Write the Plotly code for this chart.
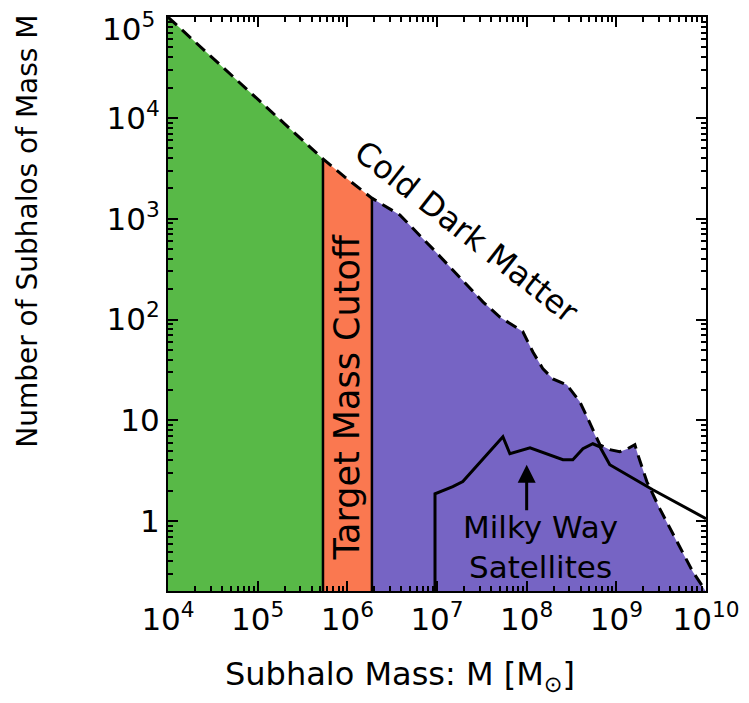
import numpy as np
import plotly.graph_objects as go

# ---- data ----
cdm_mass = [1e4, 5.35e5, 9.4e5, 1.88e6, 3.85e6, 9.0e6, 3.25e7, 5.02e7, 9.08e7, 1.17e8,
            1.52e8, 1.96e8, 2.81e8, 3.92e8, 4.81e8, 5.75e8, 6.55e8, 8.45e8, 1.09e9,
            1.34e9, 1.61e9, 1.74e9, 2.19e9, 3.05e9, 4.72e9, 7.13e9, 1e10]
cdm_count = [1e5, 3920, 2590, 1600, 1090, 502, 150, 106, 75.7, 47.9,
             32.4, 25.8, 22.5, 15.3, 10.4, 7.19, 5.73, 5.12, 4.89,
             5.24, 5.73, 4.56, 2.47, 1.33, 0.627, 0.315, 0.2]

mw_mass = [9.5e6, 9.5e6, 1.5e7, 1.94e7, 5.43e7, 6.5e7, 1.09e8, 1.82e8, 2.54e8, 3.27e8,
           4.24e8, 5.47e8, 6.55e8, 8.45e8, 2.55e9, 1e10]
mw_count = [0.1, 1.87, 2.2, 2.47, 6.89, 4.67, 5.35, 4.56, 4.07, 4.07,
            5.24, 5.86, 5.47, 3.63, 2.05, 1.06]

cutoff_lo = 5.35e5
cutoff_hi = 1.88e6
mass_min, mass_max = 1e4, 1e10
count_min, count_max = 0.203, 1.0e5

x_tickvals = [1e4, 1e5, 1e6, 1e7, 1e8, 1e9, 1e10]
x_ticktext = ["10<sup>4</sup>", "10<sup>5</sup>", "10<sup>6</sup>", "10<sup>7</sup>",
              "10<sup>8</sup>", "10<sup>9</sup>", "10<sup>10</sup>"]
y_tickvals = [1, 10, 100, 1000, 1e4, 1e5]
y_ticktext = ["1", "10", "10<sup>2</sup>", "10<sup>3</sup>", "10<sup>4</sup>", "10<sup>5</sup>"]

x_title = "Subhalo Mass: M [M<sub>⊙</sub>]"
y_title = "Number of Subhalos of Mass M"

GREEN = "#58B947"
ORANGE = "#FA7850"
PURPLE = "#7664C4"
FONT = "DejaVu Sans"

lx = np.log10(cdm_mass)
ly = np.log10(cdm_count)


def cdm_at(m):
    return 10 ** np.interp(np.log10(m), lx, ly)


def region(a, b):
    xs = [a] + [m for m in cdm_mass if a < m < b] + [b]
    ys = [cdm_at(m) for m in xs]
    floor = count_min / 10
    return xs + [b, a, a], ys + [floor, floor, ys[0]]


fig = go.Figure()
for (a, b), col in [((mass_min, cutoff_lo), GREEN), ((cutoff_lo, cutoff_hi), ORANGE),
                    ((cutoff_hi, mass_max), PURPLE)]:
    xs, ys = region(a, b)
    fig.add_trace(go.Scatter(x=xs, y=ys, fill="toself", fillcolor=col, mode="none",
                             hoverinfo="skip", showlegend=False))

# vertical cutoff boundaries
for m in (cutoff_lo, cutoff_hi):
    fig.add_trace(go.Scatter(x=[m, m], y=[count_min / 10, cdm_at(m)], mode="lines",
                             line=dict(color="black", width=2.5), showlegend=False))

# Milky Way satellites
fig.add_trace(go.Scatter(x=mw_mass, y=mw_count, mode="lines",
                         line=dict(color="black", width=3), showlegend=False))

# CDM dashed curve
fig.add_trace(go.Scatter(x=cdm_mass, y=cdm_count, mode="lines",
                         line=dict(color="black", width=3, dash="12px,7px"), showlegend=False))

fig.add_annotation(x=np.log10(2.15e7), y=np.log10(740), text="Cold Dark Matter",
                   textangle=38, showarrow=False, font=dict(family=FONT, size=32, color="black"))
fig.add_annotation(x=np.log10(np.sqrt(cutoff_lo * cutoff_hi)), y=np.log10(17),
                   text="Target Mass Cutoff", textangle=-90, showarrow=False,
                   font=dict(family=FONT, size=35, color="black"))
fig.add_annotation(x=np.log10(1.44e8), y=np.log10(0.56), text="Milky Way<br>Satellites",
                   showarrow=False, font=dict(family=FONT, size=31, color="black"))
fig.add_annotation(x=np.log10(1.0e8), y=np.log10(3.63), ax=np.log10(1.0e8), ay=np.log10(1.24),
                   axref="x", ayref="y", xref="x", yref="y", text="", showarrow=True,
                   arrowhead=2, arrowsize=1.2, arrowwidth=3, arrowcolor="black")

# axis titles
fig.add_annotation(xref="paper", yref="paper", x=0.431, y=-0.148, text=x_title,
                   showarrow=False, xanchor="center", yanchor="middle",
                   font=dict(family=FONT, size=32, color="black"))
fig.add_annotation(xref="paper", yref="paper", x=-0.26, y=0.626, text=y_title,
                   textangle=-90, showarrow=False, xanchor="center", yanchor="middle",
                   font=dict(family=FONT, size=28, color="black"))

# top y tick label sits slightly below its tick (kept inside the page)
fig.add_annotation(xref="paper", yref="paper", x=-0.02, y=0.982, text=y_ticktext[-1],
                   showarrow=False, xanchor="right", yanchor="middle",
                   font=dict(family=FONT, size=31, color="black"))

axis_common = dict(type="log", showgrid=False, zeroline=False, ticks="inside", ticklen=10,
                   tickwidth=1.5, tickcolor="black", showline=True, linecolor="black",
                   linewidth=2, mirror="allticks", automargin=False,
                   ticklabeloverflow="allow",
                   tickfont=dict(family=FONT, size=31, color="black"))

fig.update_xaxes(**axis_common, range=[np.log10(mass_min), np.log10(mass_max)],
                 tickvals=x_tickvals, ticktext=x_ticktext,
                 minor=dict(ticks="inside", ticklen=5, tickcolor="black", dtick="D1"))
fig.update_yaxes(**axis_common, range=[np.log10(count_min), np.log10(count_max) + 0.001],
                 tickvals=y_tickvals, ticktext=y_ticktext[:-1] + [""],
                 minor=dict(ticks="inside", ticklen=5, tickcolor="black", dtick="D1"))

fig.update_layout(width=749, height=703, margin=dict(l=160, r=51, t=9, b=120),
                  plot_bgcolor="white", paper_bgcolor="white", showlegend=False)

fig.write_html("out.html")
